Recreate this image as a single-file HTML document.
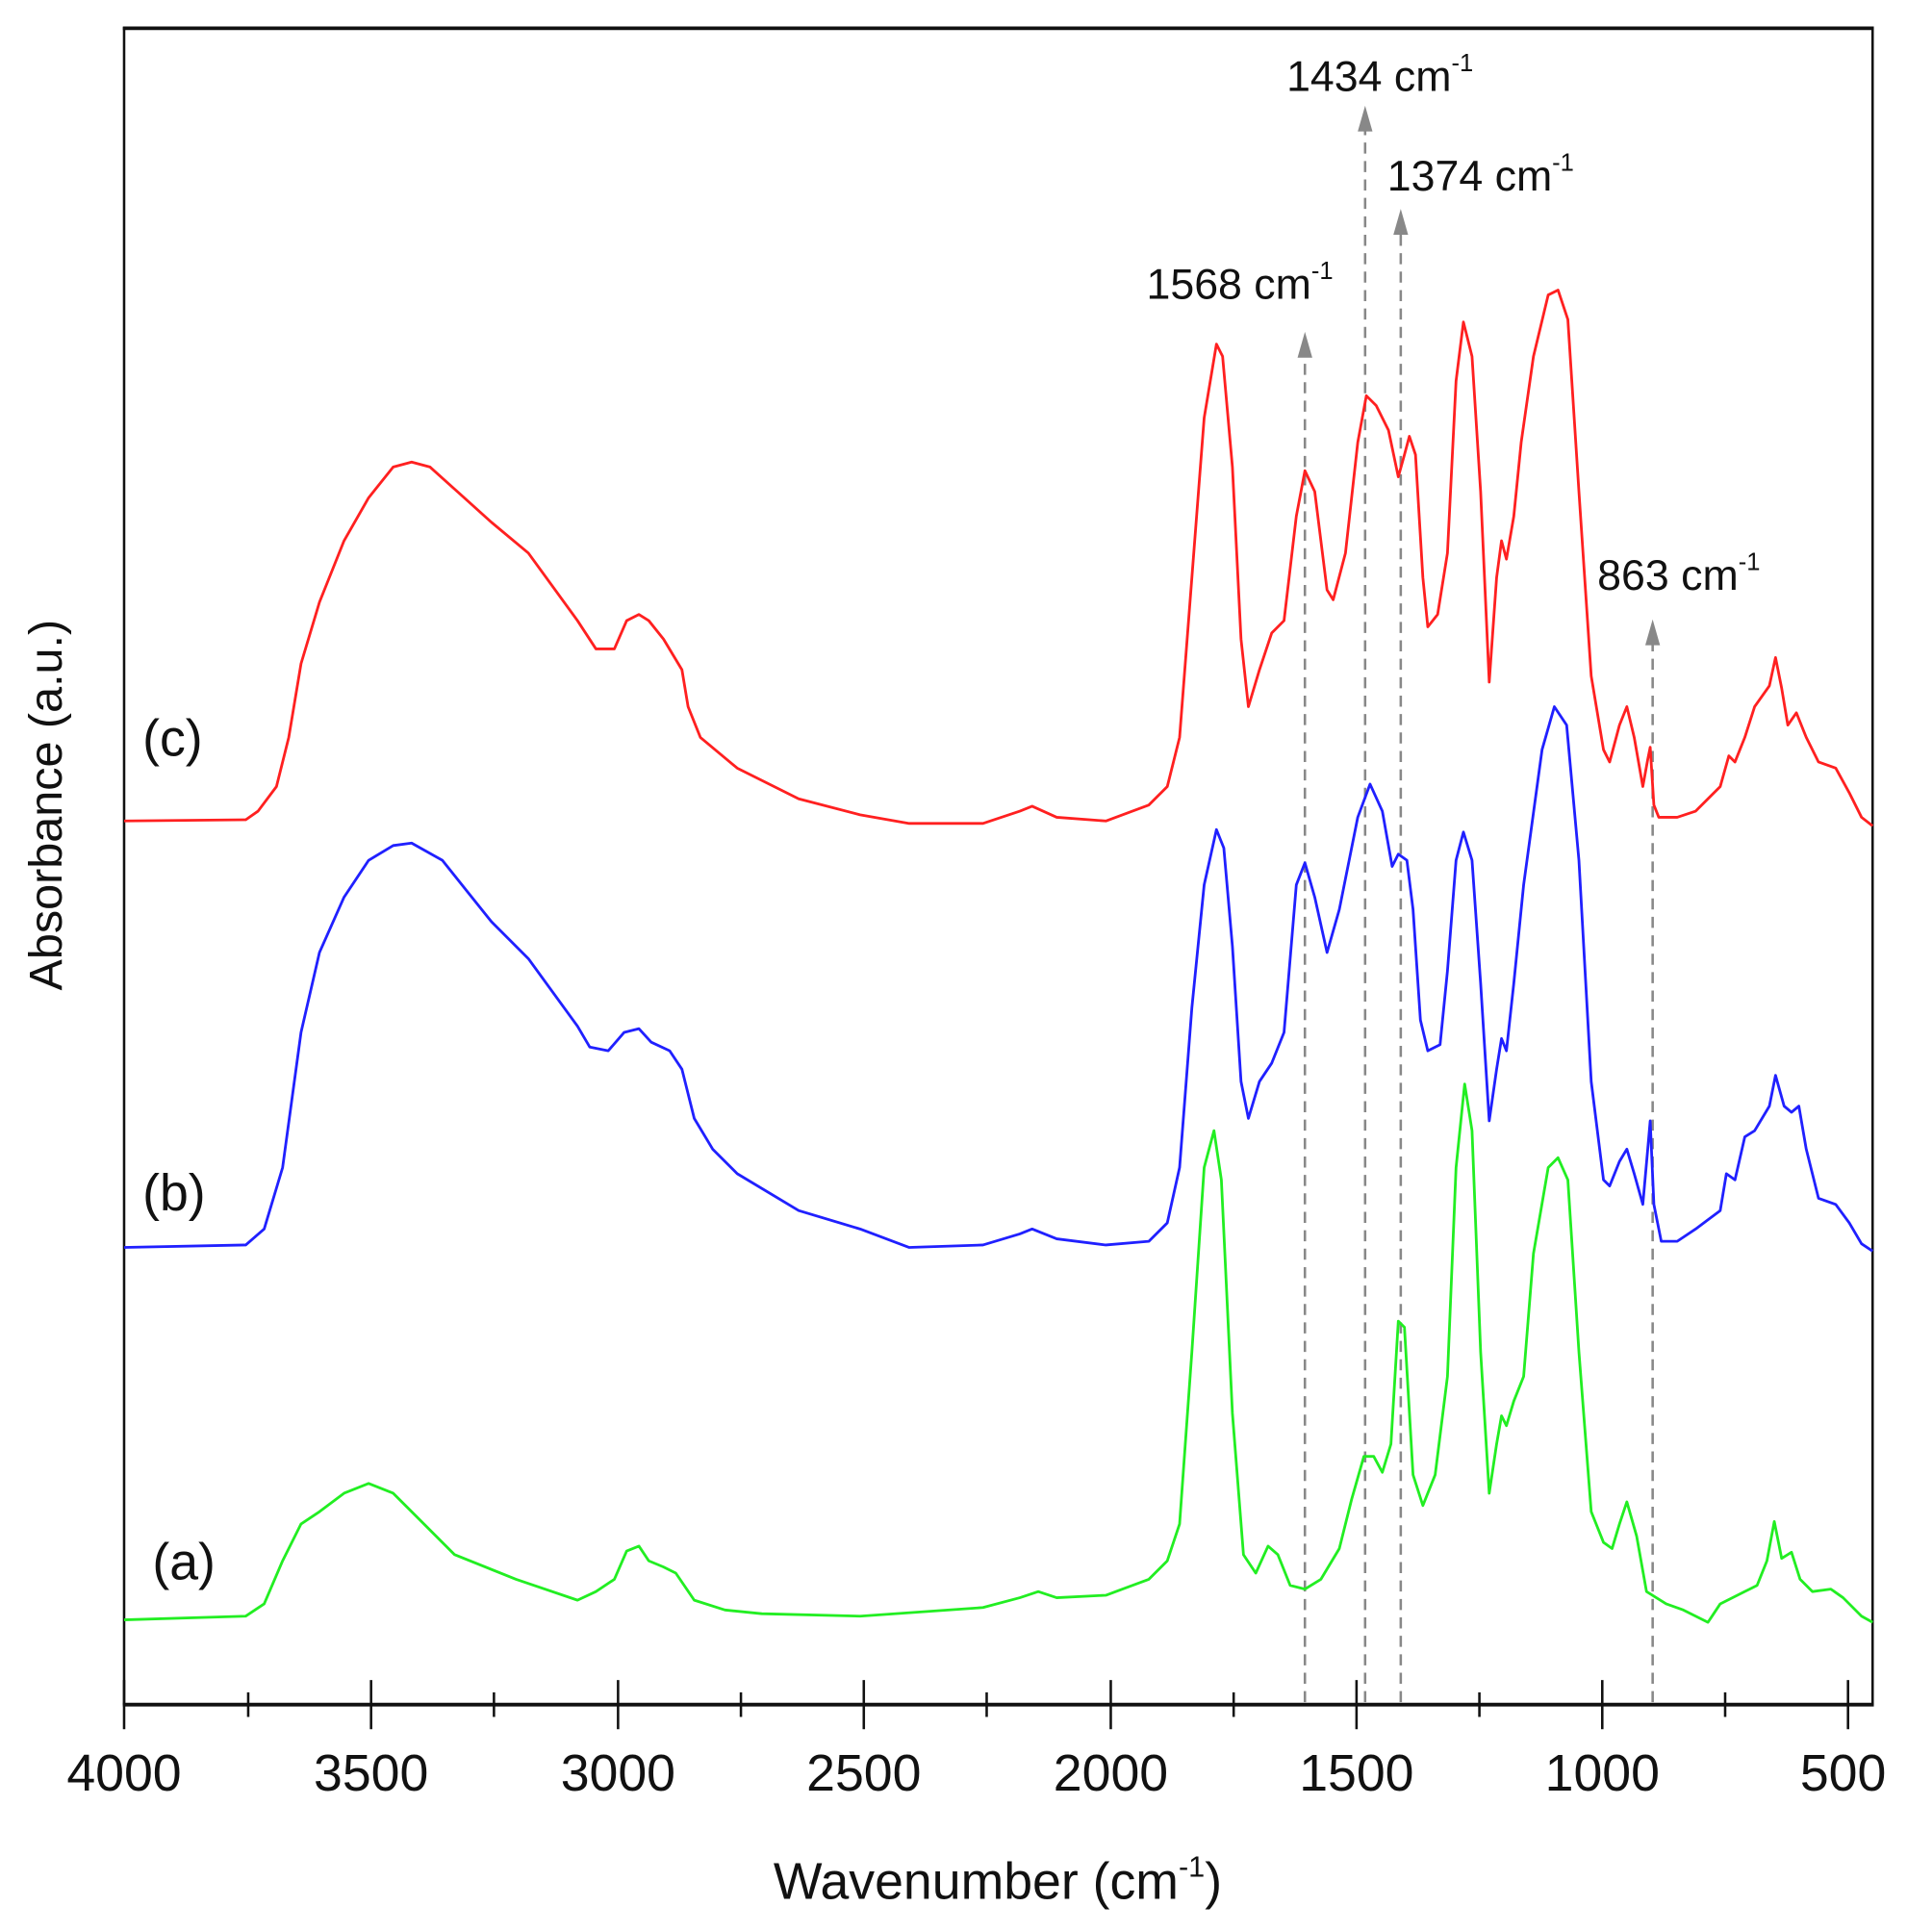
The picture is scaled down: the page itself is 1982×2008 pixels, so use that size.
<!DOCTYPE html>
<html><head><meta charset="utf-8"><style>
html,body{margin:0;padding:0;background:#fff}
svg{display:block}
text{font-family:"Liberation Sans",Arial,sans-serif;fill:#111}
</style></head><body>
<svg width="1982" height="2008" viewBox="0 0 1552 1572" preserveAspectRatio="none" xmlns="http://www.w3.org/2000/svg">
<rect x="0" y="0" width="1552" height="1572" fill="#fff"/>
<!-- frame -->
<line x1="100" y1="23" x2="1525" y2="23" stroke="#111" stroke-width="3"/>
<line x1="101" y1="22" x2="101" y2="1387" stroke="#111" stroke-width="2"/>
<line x1="1524" y1="22" x2="1524" y2="1387" stroke="#111" stroke-width="2"/>
<line x1="100" y1="1387" x2="1525" y2="1387" stroke="#111" stroke-width="3"/>
<!-- ticks -->
<g stroke="#111" stroke-width="2">
<line x1="101" y1="1367" x2="101" y2="1407"/>
<line x1="202" y1="1377" x2="202" y2="1397"/>
<line x1="302" y1="1367" x2="302" y2="1407"/>
<line x1="402" y1="1377" x2="402" y2="1397"/>
<line x1="503" y1="1367" x2="503" y2="1407"/>
<line x1="603" y1="1377" x2="603" y2="1397"/>
<line x1="703" y1="1367" x2="703" y2="1407"/>
<line x1="803" y1="1377" x2="803" y2="1397"/>
<line x1="904" y1="1367" x2="904" y2="1407"/>
<line x1="1004" y1="1377" x2="1004" y2="1397"/>
<line x1="1104" y1="1367" x2="1104" y2="1407"/>
<line x1="1204" y1="1377" x2="1204" y2="1397"/>
<line x1="1304" y1="1367" x2="1304" y2="1407"/>
<line x1="1404" y1="1377" x2="1404" y2="1397"/>
<line x1="1504" y1="1367" x2="1504" y2="1407"/>
</g>
<g font-size="42" text-anchor="middle">
<text x="101" y="1457">4000</text><text x="302" y="1457">3500</text><text x="503" y="1457">3000</text>
<text x="703" y="1457">2500</text><text x="904" y="1457">2000</text><text x="1104" y="1457">1500</text>
<text x="1304" y="1457">1000</text><text x="1500" y="1457">500</text>
</g>
<text x="812" y="1545" font-size="42" text-anchor="middle">Wavenumber (cm<tspan font-size="24" dy="-18">-1</tspan><tspan dy="18">)</tspan></text>
<text transform="translate(50,655) rotate(-90)" font-size="38" text-anchor="middle">Absorbance (a.u.)</text>
<!-- dashed markers -->
<g stroke="#888" stroke-width="2" stroke-dasharray="9,6">
<line x1="1062" y1="1385" x2="1062" y2="290"/>
<line x1="1111" y1="1385" x2="1111" y2="104"/>
<line x1="1140" y1="1385" x2="1140" y2="188"/>
<line x1="1345" y1="1385" x2="1345" y2="522"/>
</g>
<g fill="#888">
<polygon points="1062,270 1056,291 1068,291"/>
<polygon points="1111,86 1105,107 1117,107"/>
<polygon points="1140,170 1134,191 1146,191"/>
<polygon points="1345,504 1339,525 1351,525"/>
</g>
<g font-size="35">
<text x="933" y="243">1568 cm<tspan font-size="20" dy="-16">-1</tspan></text>
<text x="1047" y="74">1434 cm<tspan font-size="20" dy="-16">-1</tspan></text>
<text x="1129" y="155">1374 cm<tspan font-size="20" dy="-16">-1</tspan></text>
<text x="1300" y="480">863 cm<tspan font-size="20" dy="-16">-1</tspan></text>
</g>
<g font-size="42">
<text x="116" y="615">(c)</text>
<text x="116" y="985">(b)</text>
<text x="124" y="1285">(a)</text>
</g>
<g fill="none" stroke-width="2.2" stroke-linejoin="round">
<polyline stroke="#ff2020" points="101,668 200,667 210,660 225,640 235,600 245,540 260,490 280,440 300,405 320,380 335,376 350,380 370,398 400,425 430,450 470,505 485,528 500,528 510,505 520,500 528,505 540,520 555,545 560,575 570,600 600,625 650,650 700,663 740,670 800,670 830,660 840,656 860,665 900,668 935,655 950,640 960,600 970,470 980,340 990,280 995,290 1003,380 1010,520 1016,575 1025,545 1035,515 1045,505 1055,420 1062,383 1070,400 1080,480 1085,488 1095,450 1105,360 1112,322 1120,330 1130,350 1138,388 1143,370 1147,355 1152,370 1158,470 1162,510 1170,500 1178,450 1185,310 1191,262 1198,290 1205,400 1212,555 1218,470 1222,440 1226,455 1232,420 1238,360 1248,290 1260,240 1268,236 1276,260 1285,400 1295,550 1305,610 1310,620 1318,590 1324,575 1330,600 1337,640 1341,618 1343,608 1346,655 1350,665 1365,665 1380,660 1400,640 1407,615 1412,620 1420,600 1428,575 1440,558 1445,535 1450,560 1455,590 1462,580 1470,600 1480,620 1494,625 1505,645 1515,665 1524,672"/>
<polyline stroke="#2020ff" points="101,1015 200,1013 215,1000 230,950 245,840 260,775 280,730 300,700 320,688 335,686 360,700 380,725 400,750 430,780 470,835 480,852 495,855 508,840 520,837 530,848 545,855 555,870 565,910 580,935 600,955 650,985 700,1000 740,1015 800,1013 830,1004 840,1000 860,1008 900,1013 935,1010 950,995 960,950 970,820 980,720 990,675 996,690 1003,770 1010,880 1016,910 1025,880 1035,865 1045,840 1055,720 1062,702 1070,730 1080,775 1090,740 1105,665 1115,638 1125,660 1133,705 1138,695 1145,700 1150,740 1156,830 1162,855 1172,850 1178,790 1185,700 1191,677 1198,700 1205,800 1212,912 1218,870 1222,845 1226,855 1232,800 1240,720 1255,610 1265,575 1275,590 1285,700 1295,880 1305,960 1310,965 1318,945 1324,935 1330,955 1337,980 1341,935 1343,912 1346,980 1352,1010 1365,1010 1380,1000 1400,985 1405,955 1412,960 1420,925 1428,920 1440,900 1445,875 1452,900 1458,905 1464,900 1470,935 1480,975 1494,980 1505,995 1515,1012 1524,1018"/>
<polyline stroke="#22ee22" points="101,1318 200,1315 215,1305 230,1270 245,1240 260,1230 280,1215 300,1207 320,1215 340,1235 370,1265 420,1285 470,1302 485,1295 500,1285 510,1262 520,1258 528,1270 540,1275 550,1280 565,1302 590,1310 620,1313 700,1315 800,1308 830,1300 845,1295 860,1300 900,1298 935,1285 950,1270 960,1240 970,1100 980,950 988,920 994,960 1003,1150 1012,1265 1022,1280 1032,1258 1040,1265 1050,1290 1062,1293 1075,1285 1090,1260 1100,1220 1110,1185 1118,1185 1125,1198 1132,1175 1138,1075 1143,1080 1150,1200 1158,1225 1168,1200 1178,1120 1185,950 1192,882 1198,920 1205,1100 1212,1215 1218,1175 1222,1152 1226,1160 1232,1140 1240,1120 1248,1020 1260,950 1268,942 1276,960 1285,1100 1295,1230 1305,1255 1312,1260 1318,1240 1324,1222 1332,1250 1340,1295 1348,1300 1356,1305 1370,1310 1390,1320 1400,1305 1420,1295 1430,1290 1438,1270 1444,1238 1450,1268 1458,1263 1465,1285 1475,1295 1490,1293 1500,1300 1515,1315 1524,1320"/>
</g>
</svg>
</body></html>
